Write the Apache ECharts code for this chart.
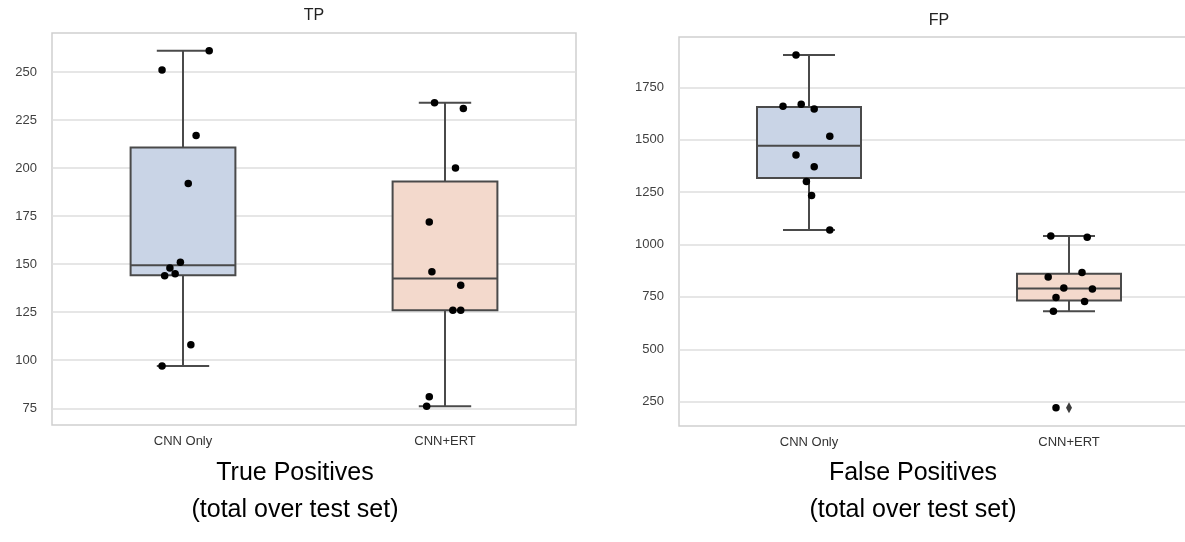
<!DOCTYPE html>
<html>
<head>
<meta charset="utf-8">
<title>TP / FP boxplots</title>
<script src="https://cdn.jsdelivr.net/npm/echarts@6/dist/echarts.min.js"></script>
<style>
  html, body { margin: 0; padding: 0; background: #fff; overflow: hidden; }
  /* a bit wider than the window: the FP panel runs off the right edge, like the source */
  #chart { width: 1215px; height: 542px; }
</style>
</head>
<body>
<div id="chart"></div>
<script>
// categories on both panels
const categories = ['CNN Only', 'CNN+ERT']

// true positives per test run (stripplot points) + horizontal jitter in category units
const tpCnn = [261, 251, 217, 192, 151, 148, 145, 144, 108, 97]
const tpCnnJitter = [0.10, -0.08, 0.05, 0.02, -0.01, -0.05, -0.03, -0.07, 0.03, -0.08]
const tpErt = [234, 231, 200, 172, 146, 139, 126, 126, 81, 76]
const tpErtJitter = [-0.04, 0.07, 0.04, -0.06, -0.05, 0.06, 0.03, 0.06, -0.06, -0.07]

// false positives per test run
const fpCnn = [1904, 1659, 1669, 1646, 1516, 1427, 1371, 1300, 1234, 1069]
const fpCnnJitter = [-0.05, -0.10, -0.03, 0.02, 0.08, -0.05, 0.02, -0.01, 0.01, 0.08]
const fpErt = [1041, 1035, 866, 845, 793, 788, 747, 728, 682, 221]
const fpErtJitter = [-0.07, 0.07, 0.05, -0.08, -0.02, 0.09, -0.05, 0.06, -0.06, -0.05]

// y tick labels
const tpTicks = [75, 100, 125, 150, 175, 200, 225, 250]
const fpTicks = [250, 500, 750, 1000, 1250, 1500, 1750]

const FONT = '"Liberation Sans", Arial, Helvetica, sans-serif'
const boxFill = ['#c9d4e6', '#f3d9cc']
const edge = '#4a4a4a'

// numpy-style linear quantile
function quantile(arr, q) {
  const s = arr.slice().sort((a, b) => a - b)
  const pos = (s.length - 1) * q
  const lo = Math.floor(pos)
  const hi = Math.min(lo + 1, s.length - 1)
  return s[lo] + (s[hi] - s[lo]) * (pos - lo)
}

// box stats like seaborn/matplotlib (whis = 1.5)
function boxStats(arr, idx) {
  const q1 = quantile(arr, 0.25)
  const med = quantile(arr, 0.5)
  const q3 = quantile(arr, 0.75)
  const iqr = q3 - q1
  const inside = arr.filter(v => v >= q1 - 1.5 * iqr && v <= q3 + 1.5 * iqr)
  const outliers = arr.filter(v => v < q1 - 1.5 * iqr || v > q3 + 1.5 * iqr)
  return {
    box: [idx, Math.min(...inside), q1, med, q3, Math.max(...inside)],
    outliers: outliers.map(v => [idx, v])
  }
}

function points(values, jitter, idx) {
  return values.map((v, i) => [idx + jitter[i], v])
}

function renderBox(params, api) {
  const idx = api.value(0)
  const low = api.coord([idx, api.value(1)])
  const q1 = api.coord([idx, api.value(2)])
  const med = api.coord([idx, api.value(3)])
  const q3 = api.coord([idx, api.value(4)])
  const high = api.coord([idx, api.value(5)])
  const hw = api.size([0.2, 0])[0]
  const cx = q1[0]
  const lineStyle = { stroke: edge, lineWidth: 2 }
  return {
    type: 'group',
    children: [
      { type: 'line', shape: { x1: cx, y1: q1[1], x2: cx, y2: low[1] }, style: lineStyle },
      { type: 'line', shape: { x1: cx, y1: q3[1], x2: cx, y2: high[1] }, style: lineStyle },
      { type: 'line', shape: { x1: cx - hw / 2, y1: low[1], x2: cx + hw / 2, y2: low[1] }, style: lineStyle },
      { type: 'line', shape: { x1: cx - hw / 2, y1: high[1], x2: cx + hw / 2, y2: high[1] }, style: lineStyle },
      {
        type: 'rect',
        shape: { x: cx - hw, y: q3[1], width: hw * 2, height: q1[1] - q3[1] },
        style: { fill: boxFill[idx], stroke: edge, lineWidth: 2 }
      },
      { type: 'line', shape: { x1: cx - hw, y1: med[1], x2: cx + hw, y2: med[1] }, style: lineStyle }
    ]
  }
}

const tpStats = [boxStats(tpCnn, 0), boxStats(tpErt, 1)]
const fpStats = [boxStats(fpCnn, 0), boxStats(fpErt, 1)]

function yAxisFor(gridIndex, min, max, ticks) {
  return {
    type: 'value',
    gridIndex: gridIndex,
    min: min,
    max: max,
    axisLine: { show: false },
    axisTick: { show: false, customValues: ticks },
    axisLabel: {
      customValues: ticks,
      formatter: v => String(v),
      color: '#3f3f3f',
      fontSize: 13,
      fontFamily: FONT,
      margin: 15
    },
    splitLine: { show: true, customValues: ticks, lineStyle: { color: '#dedede', width: 1.5 } }
  }
}

function panelSeries(gridIndex, stats, pts) {
  return [
    {
      type: 'custom',
      xAxisIndex: gridIndex * 2 + 1,
      yAxisIndex: gridIndex,
      renderItem: renderBox,
      encode: { x: 0, y: [1, 2, 3, 4, 5] },
      data: stats.map(s => s.box),
      z: 2,
      silent: true
    },
    {
      type: 'scatter',
      xAxisIndex: gridIndex * 2 + 1,
      yAxisIndex: gridIndex,
      symbol: 'diamond',
      symbolSize: [6, 11],
      itemStyle: { color: '#3d3d3d', opacity: 1 },
      data: stats.flatMap(s => s.outliers),
      z: 3
    },
    {
      type: 'scatter',
      xAxisIndex: gridIndex * 2 + 1,
      yAxisIndex: gridIndex,
      symbolSize: 7.5,
      itemStyle: { color: '#000', opacity: 1 },
      data: pts,
      z: 4
    }
  ]
}

const chart = echarts.init(document.getElementById('chart'), null, { renderer: 'canvas' })

const option = {
  backgroundColor: '#fff',
  animation: false,
  grid: [
    { left: 52, top: 33, width: 524, height: 392, show: true, borderColor: '#cfcfcf', borderWidth: 1.5 },
    { left: 679, top: 37, width: 520, height: 389, show: true, borderColor: '#cfcfcf', borderWidth: 1.5 }
  ],
  xAxis: [
    {
      type: 'category', gridIndex: 0, data: categories,
      axisLine: { show: false }, axisTick: { show: false },
      axisLabel: { color: '#333', fontSize: 13, fontFamily: FONT, margin: 10 }
    },
    { type: 'value', gridIndex: 0, min: -0.5, max: 1.5, show: false },
    {
      type: 'category', gridIndex: 1, data: categories,
      axisLine: { show: false }, axisTick: { show: false },
      axisLabel: { color: '#333', fontSize: 13, fontFamily: FONT, margin: 10 }
    },
    { type: 'value', gridIndex: 1, min: -0.5, max: 1.5, show: false }
  ],
  yAxis: [
    yAxisFor(0, 66.3, 270.3, tpTicks),
    yAxisFor(1, 134, 1990, fpTicks)
  ],
  series: [
    ...panelSeries(0, tpStats, points(tpCnn, tpCnnJitter, 0).concat(points(tpErt, tpErtJitter, 1))),
    ...panelSeries(1, fpStats, points(fpCnn, fpCnnJitter, 0).concat(points(fpErt, fpErtJitter, 1)))
  ],
  graphic: [
    { type: 'text', x: 314, y: 16, style: { text: 'TP', align: 'center', verticalAlign: 'middle', fontSize: 16, fontFamily: FONT, fill: '#222' } },
    { type: 'text', x: 939, y: 21, style: { text: 'FP', align: 'center', verticalAlign: 'middle', fontSize: 16, fontFamily: FONT, fill: '#222' } },
    { type: 'text', x: 295, y: 473, style: { text: 'True Positives', align: 'center', verticalAlign: 'middle', fontSize: 25, fontFamily: FONT, fill: '#000' } },
    { type: 'text', x: 295, y: 510, style: { text: '(total over test set)', align: 'center', verticalAlign: 'middle', fontSize: 25, fontFamily: FONT, fill: '#000' } },
    { type: 'text', x: 913, y: 473, style: { text: 'False Positives', align: 'center', verticalAlign: 'middle', fontSize: 25, fontFamily: FONT, fill: '#000' } },
    { type: 'text', x: 913, y: 510, style: { text: '(total over test set)', align: 'center', verticalAlign: 'middle', fontSize: 25, fontFamily: FONT, fill: '#000' } }
  ]
}

chart.setOption(option)
</script>
</body>
</html>
